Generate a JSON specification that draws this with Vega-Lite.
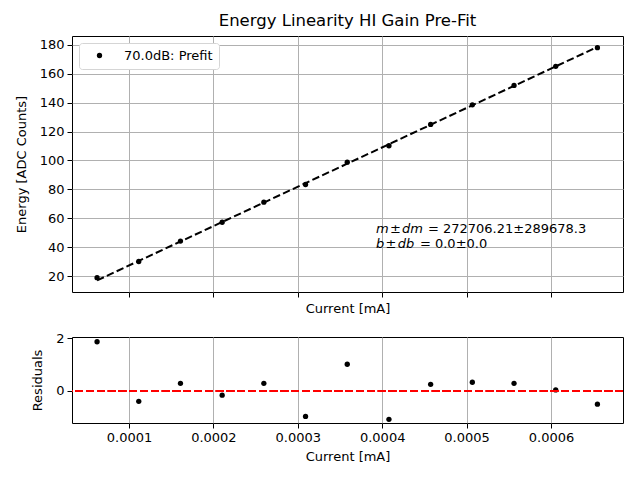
{
  "$schema": "https://vega.github.io/schema/vega-lite/v6.json",
  "background": "white",
  "padding": {"left": 14, "top": 12, "right": 18, "bottom": 5},
  "config": {
    "font": "DejaVu Sans",
    "view": {"stroke": "black", "strokeWidth": 1},
    "axis": {
      "labelFont": "DejaVu Sans", "labelFontSize": 13, "labelColor": "black", "labelOverlap": false,
      "titleFont": "DejaVu Sans", "titleFontSize": 13, "titleFontWeight": "normal", "titleColor": "black",
      "tickColor": "black", "tickSize": 5, "domain": false,
      "gridColor": "#b0b0b0", "gridWidth": 1, "gridOpacity": 1,
      "labelPadding": 3, "titlePadding": 5
    },
    "axisY": {"titlePadding": 11}
  },
  "data": {
    "values": [
      {"current": 0.0000622, "energy": 18.82, "fit": 16.96, "residual": 1.86, "series": "70.0dB: Prefit"},
      {"current": 0.0001116, "energy": 30.04, "fit": 30.43, "residual": -0.39, "series": "70.0dB: Prefit"},
      {"current": 0.0001610, "energy": 44.20, "fit": 43.91, "residual": 0.29, "series": "70.0dB: Prefit"},
      {"current": 0.0002104, "energy": 57.22, "fit": 57.38, "residual": -0.16, "series": "70.0dB: Prefit"},
      {"current": 0.0002598, "energy": 71.14, "fit": 70.85, "residual": 0.29, "series": "70.0dB: Prefit"},
      {"current": 0.0003092, "energy": 83.36, "fit": 84.32, "residual": -0.96, "series": "70.0dB: Prefit"},
      {"current": 0.0003586, "energy": 98.80, "fit": 97.79, "residual": 1.01, "series": "70.0dB: Prefit"},
      {"current": 0.0004080, "energy": 110.19, "fit": 111.26, "residual": -1.07, "series": "70.0dB: Prefit"},
      {"current": 0.0004574, "energy": 124.98, "fit": 124.73, "residual": 0.25, "series": "70.0dB: Prefit"},
      {"current": 0.0005068, "energy": 138.54, "fit": 138.21, "residual": 0.33, "series": "70.0dB: Prefit"},
      {"current": 0.0005562, "energy": 151.97, "fit": 151.68, "residual": 0.29, "series": "70.0dB: Prefit"},
      {"current": 0.0006056, "energy": 165.19, "fit": 165.15, "residual": 0.04, "series": "70.0dB: Prefit"},
      {"current": 0.0006550, "energy": 178.12, "fit": 178.62, "residual": -0.50, "series": "70.0dB: Prefit"}
    ]
  },
  "spacing": 15,
  "vconcat": [
    {
      "width": 551,
      "height": 256,
      "title": {"text": "Energy Linearity HI Gain Pre-Fit", "font": "DejaVu Sans", "fontSize": 16.5, "fontWeight": "normal", "color": "black", "anchor": "middle", "offset": 7},
      "encoding": {
        "x": {"field": "current", "type": "quantitative",
              "scale": {"domain": [0.0000325, 0.0006853], "nice": false, "zero": false},
              "axis": {"values": [0.0001, 0.0002, 0.0003, 0.0004, 0.0005, 0.0006], "labels": false, "title": "Current [mA]", "grid": true}}
      },
      "layer": [
        {
          "mark": {"type": "line", "color": "black", "strokeWidth": 2, "strokeDash": [7.5, 3.3]},
          "encoding": {
            "y": {"field": "fit", "type": "quantitative",
                  "scale": {"domain": [8.92, 186.2], "nice": false, "zero": false},
                  "axis": {"values": [20, 40, 60, 80, 100, 120, 140, 160, 180], "labelOverlap": false, "title": "Energy [ADC Counts]", "grid": true}}
          }
        },
        {
          "mark": {"type": "point", "filled": true, "opacity": 1, "size": 28},
          "encoding": {
            "y": {"field": "energy", "type": "quantitative",
                  "axis": {"values": [20, 40, 60, 80, 100, 120, 140, 160, 180], "labelOverlap": false, "title": "Energy [ADC Counts]", "grid": true}},
            "color": {"field": "series", "type": "nominal", "scale": {"range": ["black"]},
                      "legend": {"title": null, "orient": "none", "legendX": 7, "legendY": 7,
                                 "strokeColor": "#d5d5d5", "fillColor": "white", "cornerRadius": 3, "padding": 6,
                                 "symbolType": "circle", "symbolSize": 28, "symbolOffset": 8, "labelOffset": 18,
                                 "labelFont": "DejaVu Sans", "labelFontSize": 13, "labelColor": "black"}}
          }
        },
        {
          "data": {"values": [{"current": 0.0003926, "y": 49.8, "sym": "m\u200a±\u200adm", "val": "= 272706.21±289678.3"}]},
          "layer": [
            {
              "mark": {"type": "text", "align": "left", "baseline": "alphabetic", "fontSize": 13, "fontStyle": "italic", "color": "black"},
              "encoding": {"y": {"field": "y", "type": "quantitative", "axis": {"values": [20, 40, 60, 80, 100, 120, 140, 160, 180], "labelOverlap": false, "title": "Energy [ADC Counts]", "grid": true}}, "text": {"field": "sym"}}
            },
            {
              "mark": {"type": "text", "align": "left", "baseline": "alphabetic", "fontSize": 13, "dx": 52, "color": "black"},
              "encoding": {"y": {"field": "y", "type": "quantitative", "axis": {"values": [20, 40, 60, 80, 100, 120, 140, 160, 180], "labelOverlap": false, "title": "Energy [ADC Counts]", "grid": true}}, "text": {"field": "val"}}
            }
          ]
        },
        {
          "data": {"values": [{"current": 0.0003926, "y": 39.4, "sym": "b\u200a±\u200adb", "val": "= 0.0±0.0"}]},
          "layer": [
            {
              "mark": {"type": "text", "align": "left", "baseline": "alphabetic", "fontSize": 13, "fontStyle": "italic", "color": "black"},
              "encoding": {"y": {"field": "y", "type": "quantitative", "axis": {"values": [20, 40, 60, 80, 100, 120, 140, 160, 180], "labelOverlap": false, "title": "Energy [ADC Counts]", "grid": true}}, "text": {"field": "sym"}}
            },
            {
              "mark": {"type": "text", "align": "left", "baseline": "alphabetic", "fontSize": 13, "dx": 44, "color": "black"},
              "encoding": {"y": {"field": "y", "type": "quantitative", "axis": {"values": [20, 40, 60, 80, 100, 120, 140, 160, 180], "labelOverlap": false, "title": "Energy [ADC Counts]", "grid": true}}, "text": {"field": "val"}}
            }
          ]
        }
      ]
    },
    {
      "width": 551,
      "height": 86,
      "layer": [
        {
          "mark": {"type": "point", "filled": true, "opacity": 1, "size": 28, "color": "black"},
          "encoding": {
            "x": {"field": "current", "type": "quantitative",
                  "scale": {"domain": [0.0000325, 0.0006853], "nice": false, "zero": false},
                  "axis": {"values": [0.0001, 0.0002, 0.0003, 0.0004, 0.0005, 0.0006], "format": ".4f", "title": "Current [mA]", "titlePadding": 6, "grid": true}},
            "y": {"field": "residual", "type": "quantitative",
                  "scale": {"domain": [-1.21, 2.04], "nice": false, "zero": false},
                  "axis": {"values": [0, 2], "title": "Residuals", "grid": false}}
          }
        },
        {
          "mark": {"type": "rule", "color": "red", "strokeWidth": 2, "strokeDash": [7.5, 3.3]},
          "encoding": {"y": {"datum": 0, "type": "quantitative"}}
        }
      ]
    }
  ]
}
